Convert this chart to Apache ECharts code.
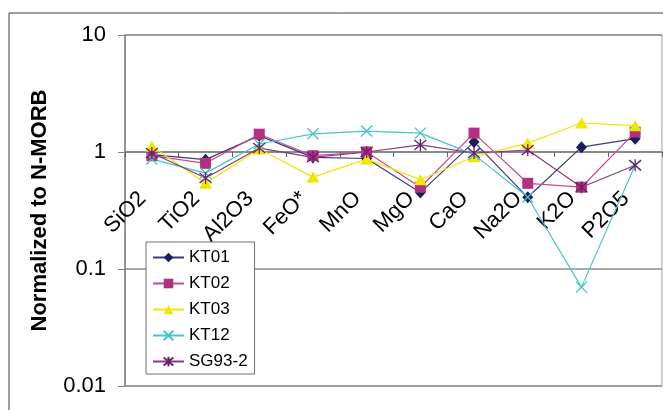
<!DOCTYPE html>
<html><head><meta charset="utf-8">
<script src="https://cdn.jsdelivr.net/npm/echarts@6/dist/echarts.min.js"></script>
<style>html,body{margin:0;padding:0;background:#fff}#c{width:663px;height:410px}</style>
</head><body><div id="c"></div>
<script>
const categories = ['SiO2','TiO2','Al2O3','FeO*','MnO','MgO','CaO','Na2O','K2O','P2O5'];
const KT01 = [0.95, 0.86, 1.38, 0.90, 0.88, 0.45, 1.22, 0.41, 1.10, 1.30];
const KT02 = [0.93, 0.80, 1.42, 0.93, 1.00, 0.50, 1.45, 0.54, 0.50, 1.48];
const KT03 = [1.12, 0.54, 1.06, 0.61, 0.87, 0.58, 0.91, 1.19, 1.77, 1.68];
const KT12 = [0.87, 0.66, 1.17, 1.43, 1.51, 1.45, 0.95, 0.41, 0.07, 0.77];
const SG93_2 = [0.98, 0.60, 1.08, 0.90, 1.00, 1.15, 0.98, 1.04, 0.50, 0.77];
const yTicks = [0.01, 0.1, 1, 10];

const FONT = 'Arial, "Liberation Sans", sans-serif';
const chart = echarts.init(document.getElementById('c'), null, {renderer:'canvas'});

function ser(name, data, symbol, size, mColor, lColor, stroked) {
  return {
    name, type:'line', data, symbol, symbolSize:size,
    showAllSymbol:true,
    lineStyle:{color:lColor, width:1.2},
    itemStyle: stroked ? {color:'rgba(0,0,0,0)', borderColor:mColor, borderWidth:1.3}
                       : {color:mColor, borderWidth:0},
    emphasis:{disabled:true},
    animation:false
  };
}

chart.setOption({
  animation:false,
  graphic:[{type:'rect', shape:{x:9, y:13, width:700, height:500}, style:{fill:'none', stroke:'#404040', lineWidth:1}, z:-10}],
  grid:{left:125, top:35, width:537, height:351, show:true, borderColor:'#a0a0a0', borderWidth:1},
  legend:{
    orient:'vertical', left:146, top:242,
    padding:[6,7,3,6], itemGap:7, itemWidth:31, itemHeight:12,
    backgroundColor:'#fff', borderColor:'#707070', borderWidth:1,
    textStyle:{fontFamily:FONT, fontSize:17, color:'#000', lineHeight:19},
    data:['KT01','KT02','KT03','KT12','SG93-2']
  },
  xAxis:{
    type:'category', data:categories, boundaryGap:true, position:'bottom', offset:-234,
    axisLine:{lineStyle:{color:'#808080', width:1.5}},
    axisTick:{show:true, length:5, lineStyle:{color:'#606060'}},
    axisLabel:{rotate:45, fontFamily:FONT, fontSize:22, color:'#000', margin:34, padding:[0,13,0,0]},
    splitLine:{show:false}
  },
  yAxis:{
    type:'log', logBase:10, min:0.01, max:10,
    name:'Normalized to N-MORB', nameLocation:'middle', nameRotate:90, nameGap:74,
    nameTextStyle:{fontFamily:FONT, fontSize:22, fontWeight:'bold', color:'#000'},
    axisLine:{show:true, lineStyle:{color:'#808080', width:1.5}},
    axisTick:{show:true, length:7, lineStyle:{color:'#808080'}},
    axisLabel:{fontFamily:FONT, fontSize:22, color:'#000', margin:19,
      formatter:v => { const t = yTicks.find(x => Math.abs(x - v) / x < 1e-6); return t !== undefined ? String(t) : ''; }},
    splitLine:{show:true, lineStyle:{color:'#8c8c8c', width:1.5}}
  },
  series:[
    ser('KT01', KT01, 'diamond', [11,12], '#1c1c5a', '#3b3b7a', false),
    ser('KT02', KT02, 'rect', 11, '#b2307f', '#c9479a', false),
    ser('KT03', KT03, 'triangle', [13,11], '#f0e600', '#f0e600', false),
    ser('KT12', KT12, 'path://M0,0L10,10M10,0L0,10', 11, '#40c4cc', '#47c6cf', true),
    ser('SG93-2', SG93_2, 'path://M0,0L10,10M10,0L0,10M5,-1L5,11', 12, '#6e1f66', '#8a3a80', true)
  ]
});
</script></body></html>
